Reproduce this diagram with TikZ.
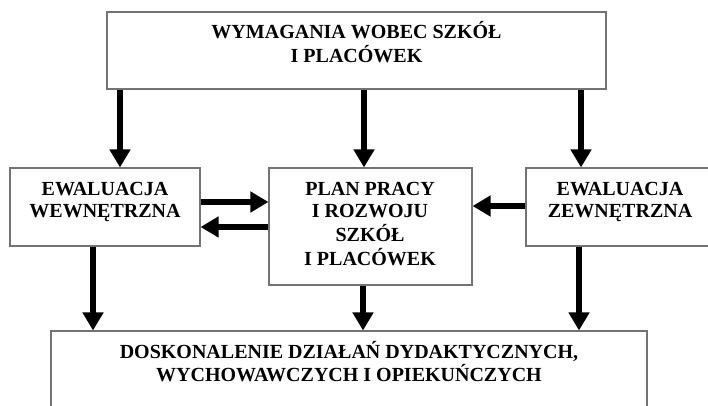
\documentclass[tikz,border=0pt]{standalone}
\usepackage{fontspec}
\setmainfont{Liberation Serif}
\usetikzlibrary{arrows.meta,calc}
\begin{document}
\begin{tikzpicture}[x=1pt,y=-1pt,
  box/.style={draw=black!55, line width=1.1pt, rectangle, inner sep=0pt, fill=white},
  lbl/.style={inner sep=0pt, anchor=base, font=\fontsize{20}{22.5}\selectfont\bfseries},
  arr/.style={line width=6.5pt, -{Triangle[length=18pt,width=20pt]}}]
\useasboundingbox (0,0) rectangle (708,406);
\clip (0,0) rectangle (708,406);
% boxes
\node[box, minimum width=499pt, minimum height=77pt] (T) at (356.5,50.5) {};
\node[box, minimum width=190pt, minimum height=78pt] (L) at (105,207) {};
\node[box, minimum width=203pt, minimum height=117pt] (M) at (370.5,226.5) {};
\node[box, minimum width=188pt, minimum height=78pt] (R) at (620,207) {};
\node[box, minimum width=596pt, minimum height=89pt] (B) at (349,375.5) {};
% texts
\node[lbl] (Tt) at (356.5,39) {\begin{tabular}[t]{@{}c@{}}WYMAGANIA WOBEC SZKÓŁ\\I PLACÓWEK\end{tabular}};
\node[lbl] (Lt) at (105,195) {\begin{tabular}[t]{@{}c@{}}EWALUACJA\\WEWNĘTRZNA\end{tabular}};
\node[lbl] (Mt) at (370,195) {\begin{tabular}[t]{@{}c@{}}PLAN PRACY\\I ROZWOJU\\SZKÓŁ\\I PLACÓWEK\end{tabular}};
\node[lbl] (Rt) at (620,195) {\begin{tabular}[t]{@{}c@{}}EWALUACJA\\ZEWNĘTRZNA\end{tabular}};
\node[lbl] (Bt) at (349,358) {\begin{tabular}[t]{@{}c@{}}DOSKONALENIE DZIAŁAŃ DYDAKTYCZNYCH,\\WYCHOWAWCZYCH I OPIEKUŃCZYCH\end{tabular}};
% arrows
\draw[arr] ([xshift=15pt]L.north |- T.south) -- ([xshift=15pt]L.north);
\draw[arr] ([xshift=-6.5pt]M.north |- T.south) -- ([xshift=-6.5pt]M.north);
\draw[arr] ([xshift=-39pt]R.north |- T.south) -- ([xshift=-39pt]R.north);
\draw[arr] ([xshift=-12pt]L.south) -- ([xshift=-12pt]L.south |- B.north);
\draw[arr] ([xshift=-7.5pt]M.south) -- ([xshift=-7.5pt]M.south |- B.north);
\draw[arr] ([xshift=-41pt]R.south) -- ([xshift=-41pt]R.south |- B.north);
\draw[arr] ([yshift=5pt]L.east) -- ([yshift=5pt]L.east -| M.west);
\draw[arr] ([yshift=-20pt]L.east -| M.west) -- ([yshift=-20pt]L.east);
\draw[arr] ([yshift=1pt]R.west) -- ([yshift=1pt]R.west -| M.east);
\end{tikzpicture}
\end{document}
